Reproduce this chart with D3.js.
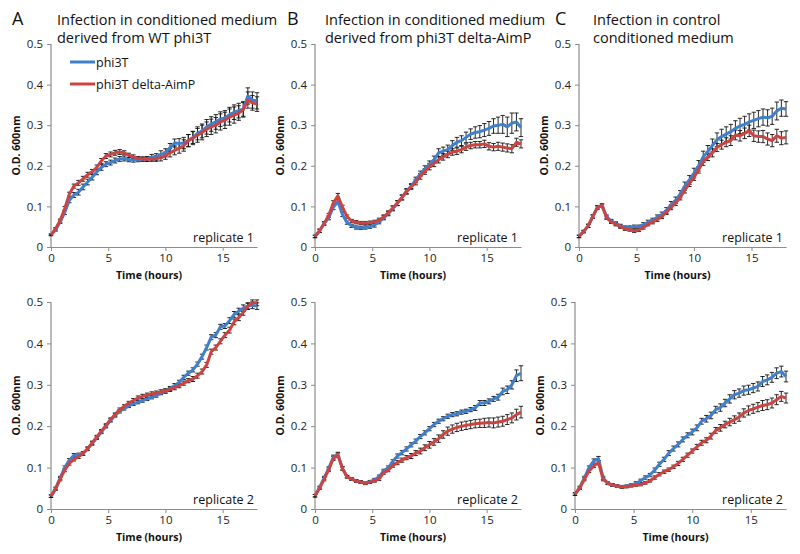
<!DOCTYPE html>
<html><head><meta charset="utf-8">
<script src="https://cdn.jsdelivr.net/npm/d3@7"></script>
<style>
body{margin:0;background:#fff;}
svg{display:block;}
</style></head>
<body>
<svg id="chart" width="800" height="554"></svg>
<script>
// ---- data ----
const times = [0,0.4,0.8,1.2,1.6,2.0,2.4,2.8,3.2,3.6,4.0,4.4,4.8,5.2,5.6,6.0,6.4,6.8,7.2,7.6,8.0,8.4,8.8,9.2,9.6,10.0,10.4,10.8,11.2,11.6,12.0,12.4,12.8,13.2,13.6,14.0,14.4,14.8,15.2,15.6,16.0,16.4,16.8,17.2,17.6,18.0];
const seriesNames = ["phi3T", "phi3T delta-AimP"];
const xTicks = [0, 5, 10, 15];
const yTicks = [0, 0.1, 0.2, 0.3, 0.4, 0.5];
const panelLetters = ["A", "B", "C"];
const panelTitles = [
  ["Infection in conditioned medium", "derived from WT phi3T"],
  ["Infection in conditioned medium", "derived from phi3T delta-AimP"],
  ["Infection in control", "conditioned medium"]
];
const replicateLabels = ["replicate 1", "replicate 2"];
const xLabel = "Time (hours)";
const yLabel = "O.D. 600nm";

// replicate 1
const a1Phi3T = [0.030,0.042,0.062,0.085,0.115,0.128,0.135,0.148,0.160,0.172,0.185,0.196,0.204,0.208,0.213,0.217,0.218,0.215,0.214,0.215,0.216,0.217,0.221,0.222,0.228,0.232,0.245,0.256,0.255,0.256,0.262,0.270,0.280,0.286,0.296,0.303,0.308,0.315,0.318,0.326,0.332,0.336,0.340,0.372,0.362,0.360];
const a1Delta = [0.030,0.045,0.065,0.095,0.130,0.150,0.158,0.168,0.178,0.185,0.196,0.212,0.224,0.228,0.232,0.234,0.232,0.226,0.222,0.218,0.217,0.216,0.217,0.218,0.220,0.225,0.232,0.238,0.243,0.250,0.262,0.268,0.275,0.282,0.290,0.296,0.300,0.308,0.312,0.320,0.325,0.330,0.338,0.362,0.355,0.352];
const a1Phi3TErr = [0.002,0.003,0.004,0.005,0.006,0.006,0.007,0.007,0.007,0.007,0.007,0.007,0.006,0.006,0.006,0.006,0.006,0.005,0.005,0.005,0.005,0.006,0.007,0.008,0.009,0.010,0.010,0.010,0.012,0.014,0.015,0.015,0.016,0.017,0.018,0.018,0.018,0.018,0.018,0.018,0.018,0.018,0.018,0.020,0.020,0.020];
const a1DeltaErr = [0.002,0.003,0.004,0.005,0.005,0.005,0.006,0.006,0.006,0.006,0.006,0.006,0.006,0.006,0.006,0.006,0.005,0.005,0.005,0.005,0.005,0.005,0.006,0.007,0.008,0.009,0.010,0.011,0.012,0.014,0.015,0.016,0.017,0.018,0.018,0.019,0.019,0.020,0.020,0.020,0.020,0.018,0.018,0.020,0.018,0.018];

const b1Phi3T = [0.026,0.040,0.058,0.072,0.098,0.112,0.080,0.060,0.052,0.048,0.047,0.048,0.050,0.054,0.062,0.072,0.082,0.095,0.108,0.122,0.138,0.150,0.165,0.180,0.192,0.204,0.215,0.232,0.236,0.240,0.250,0.258,0.262,0.270,0.278,0.282,0.284,0.288,0.292,0.298,0.300,0.302,0.296,0.305,0.308,0.294];
const b1Delta = [0.026,0.040,0.058,0.078,0.108,0.126,0.098,0.075,0.064,0.061,0.059,0.059,0.060,0.062,0.066,0.074,0.084,0.096,0.108,0.122,0.136,0.148,0.160,0.174,0.186,0.198,0.206,0.215,0.222,0.228,0.234,0.236,0.240,0.246,0.250,0.252,0.252,0.254,0.248,0.246,0.248,0.246,0.244,0.242,0.258,0.254];
const b1Phi3TErr = [0.003,0.004,0.004,0.005,0.006,0.006,0.005,0.004,0.004,0.004,0.004,0.004,0.004,0.005,0.005,0.005,0.005,0.006,0.006,0.006,0.006,0.006,0.007,0.007,0.008,0.008,0.009,0.010,0.010,0.011,0.012,0.012,0.012,0.013,0.013,0.014,0.015,0.016,0.017,0.018,0.020,0.022,0.024,0.025,0.022,0.022];
const b1DeltaErr = [0.003,0.004,0.004,0.005,0.006,0.006,0.005,0.004,0.004,0.004,0.004,0.004,0.004,0.004,0.005,0.005,0.005,0.005,0.006,0.006,0.006,0.006,0.007,0.007,0.007,0.008,0.008,0.008,0.008,0.008,0.008,0.008,0.008,0.008,0.008,0.008,0.008,0.009,0.009,0.009,0.010,0.010,0.010,0.010,0.010,0.010];

const c1Phi3T = [0.026,0.038,0.052,0.075,0.098,0.102,0.075,0.064,0.058,0.052,0.048,0.048,0.050,0.050,0.055,0.061,0.066,0.073,0.080,0.090,0.104,0.115,0.130,0.150,0.165,0.182,0.200,0.222,0.235,0.250,0.264,0.272,0.278,0.284,0.292,0.298,0.302,0.308,0.312,0.316,0.320,0.318,0.322,0.335,0.342,0.340];
const c1Delta = [0.026,0.038,0.052,0.075,0.097,0.102,0.072,0.062,0.056,0.050,0.045,0.043,0.040,0.042,0.048,0.056,0.062,0.068,0.075,0.085,0.098,0.108,0.122,0.140,0.156,0.172,0.190,0.210,0.222,0.232,0.245,0.252,0.258,0.262,0.276,0.274,0.280,0.286,0.274,0.272,0.272,0.266,0.262,0.274,0.268,0.270];
const c1Phi3TErr = [0.003,0.003,0.004,0.004,0.004,0.004,0.004,0.004,0.004,0.004,0.004,0.004,0.004,0.004,0.005,0.005,0.005,0.006,0.006,0.007,0.008,0.008,0.009,0.010,0.011,0.012,0.013,0.014,0.015,0.016,0.017,0.018,0.018,0.018,0.019,0.019,0.020,0.020,0.020,0.020,0.020,0.020,0.020,0.022,0.020,0.018];
const c1DeltaErr = [0.003,0.003,0.004,0.004,0.004,0.004,0.004,0.004,0.004,0.004,0.004,0.004,0.004,0.004,0.004,0.004,0.005,0.005,0.005,0.005,0.006,0.006,0.006,0.007,0.007,0.008,0.008,0.009,0.009,0.010,0.010,0.011,0.011,0.012,0.012,0.013,0.013,0.014,0.014,0.014,0.015,0.015,0.015,0.016,0.016,0.016];

// replicate 2
const a2Phi3T = [0.031,0.050,0.075,0.100,0.118,0.130,0.131,0.134,0.145,0.158,0.172,0.186,0.200,0.214,0.226,0.236,0.243,0.249,0.254,0.258,0.262,0.266,0.270,0.274,0.280,0.285,0.291,0.298,0.306,0.318,0.328,0.336,0.350,0.368,0.390,0.415,0.420,0.440,0.442,0.455,0.470,0.478,0.485,0.490,0.492,0.490];
const a2Delta = [0.031,0.048,0.072,0.094,0.110,0.120,0.126,0.134,0.146,0.160,0.174,0.188,0.202,0.216,0.228,0.240,0.248,0.256,0.262,0.268,0.272,0.275,0.278,0.280,0.283,0.285,0.289,0.293,0.298,0.304,0.310,0.314,0.322,0.332,0.348,0.380,0.390,0.405,0.420,0.432,0.452,0.462,0.475,0.490,0.498,0.498];
const a2Phi3TErr = [0.003,0.003,0.004,0.004,0.004,0.004,0.004,0.004,0.004,0.004,0.004,0.004,0.004,0.004,0.004,0.004,0.004,0.004,0.004,0.004,0.004,0.004,0.004,0.004,0.004,0.005,0.005,0.005,0.005,0.005,0.005,0.005,0.005,0.006,0.006,0.006,0.006,0.006,0.006,0.007,0.007,0.007,0.008,0.008,0.008,0.008];
const a2DeltaErr = [0.003,0.003,0.004,0.004,0.004,0.004,0.004,0.004,0.004,0.004,0.004,0.004,0.004,0.004,0.004,0.004,0.004,0.004,0.005,0.005,0.005,0.005,0.005,0.005,0.005,0.005,0.005,0.005,0.005,0.005,0.005,0.006,0.006,0.006,0.006,0.006,0.006,0.006,0.006,0.007,0.007,0.007,0.007,0.007,0.007,0.007];

const b2Phi3T = [0.032,0.052,0.075,0.098,0.125,0.132,0.098,0.078,0.072,0.068,0.065,0.062,0.066,0.070,0.078,0.092,0.100,0.115,0.128,0.136,0.145,0.155,0.164,0.175,0.184,0.194,0.204,0.212,0.218,0.224,0.228,0.230,0.234,0.236,0.240,0.244,0.256,0.256,0.260,0.266,0.270,0.284,0.288,0.300,0.322,0.328];
const b2Delta = [0.032,0.050,0.072,0.095,0.122,0.130,0.098,0.078,0.072,0.068,0.065,0.062,0.065,0.068,0.073,0.088,0.094,0.105,0.112,0.118,0.124,0.128,0.135,0.140,0.148,0.155,0.162,0.170,0.180,0.188,0.193,0.197,0.200,0.202,0.204,0.206,0.207,0.208,0.209,0.208,0.210,0.212,0.216,0.220,0.228,0.234];
const b2Phi3TErr = [0.003,0.003,0.004,0.004,0.005,0.005,0.004,0.003,0.003,0.003,0.003,0.003,0.003,0.004,0.004,0.004,0.004,0.004,0.005,0.005,0.005,0.005,0.005,0.005,0.005,0.005,0.005,0.005,0.005,0.005,0.005,0.005,0.005,0.005,0.005,0.006,0.006,0.006,0.006,0.006,0.007,0.008,0.009,0.010,0.014,0.018];
const b2DeltaErr = [0.003,0.003,0.004,0.004,0.005,0.005,0.004,0.003,0.003,0.003,0.003,0.003,0.003,0.003,0.004,0.004,0.004,0.004,0.005,0.005,0.005,0.006,0.006,0.007,0.007,0.008,0.008,0.009,0.009,0.010,0.010,0.010,0.010,0.010,0.010,0.010,0.010,0.011,0.011,0.012,0.012,0.012,0.012,0.012,0.013,0.014];

const c2Phi3T = [0.036,0.052,0.075,0.100,0.116,0.122,0.075,0.062,0.058,0.055,0.054,0.055,0.058,0.062,0.068,0.076,0.082,0.094,0.108,0.120,0.135,0.146,0.156,0.168,0.178,0.186,0.196,0.212,0.218,0.226,0.240,0.245,0.256,0.266,0.276,0.280,0.286,0.288,0.292,0.296,0.308,0.312,0.318,0.328,0.332,0.320];
const c2Delta = [0.036,0.050,0.072,0.092,0.104,0.112,0.072,0.062,0.058,0.055,0.053,0.054,0.056,0.058,0.059,0.063,0.068,0.076,0.084,0.090,0.095,0.102,0.110,0.120,0.130,0.140,0.150,0.160,0.166,0.176,0.190,0.196,0.204,0.210,0.216,0.222,0.232,0.238,0.242,0.246,0.250,0.252,0.256,0.264,0.272,0.268];
const c2Phi3TErr = [0.003,0.003,0.004,0.004,0.005,0.005,0.004,0.003,0.003,0.003,0.003,0.003,0.003,0.004,0.004,0.004,0.004,0.005,0.005,0.005,0.006,0.006,0.006,0.006,0.006,0.007,0.007,0.007,0.008,0.008,0.008,0.009,0.009,0.010,0.010,0.010,0.011,0.011,0.011,0.011,0.012,0.012,0.012,0.013,0.013,0.013];
const c2DeltaErr = [0.003,0.003,0.004,0.004,0.004,0.004,0.004,0.003,0.003,0.003,0.003,0.003,0.003,0.003,0.003,0.003,0.003,0.004,0.004,0.004,0.004,0.004,0.005,0.005,0.005,0.005,0.006,0.006,0.006,0.007,0.007,0.008,0.008,0.009,0.009,0.010,0.010,0.011,0.011,0.011,0.012,0.012,0.012,0.012,0.012,0.012];

// ---- layout ----
const colors = ["#3f7fcc", "#cc4442"];
const panels = [
  {col:0,row:0,x0:51, x1:257,y0:247,y1:44, s:[a1Phi3T,a1Delta], e:[a1Phi3TErr,a1DeltaErr]},
  {col:1,row:0,x0:315,x1:521,y0:247,y1:44, s:[b1Phi3T,b1Delta], e:[b1Phi3TErr,b1DeltaErr]},
  {col:2,row:0,x0:579,x1:786,y0:247,y1:44, s:[c1Phi3T,c1Delta], e:[c1Phi3TErr,c1DeltaErr]},
  {col:0,row:1,x0:51, x1:257,y0:509,y1:302,s:[a2Phi3T,a2Delta], e:[a2Phi3TErr,a2DeltaErr]},
  {col:1,row:1,x0:315,x1:521,y0:509,y1:302,s:[b2Phi3T,b2Delta], e:[b2Phi3TErr,b2DeltaErr]},
  {col:2,row:1,x0:575,x1:786,y0:509,y1:302,s:[c2Phi3T,c2Delta], e:[c2Phi3TErr,c2DeltaErr]}
];
const font = "'Open Sans', 'DejaVu Sans', sans-serif";
const svg = d3.select("#chart");

panels.forEach(p => {
  const x = d3.scaleLinear().domain([0, 18]).range([p.x0, p.x1]);
  const y = d3.scaleLinear().domain([0, 0.5]).range([p.y0, p.y1]);
  const g = svg.append("g");

  // axes
  const ya = g.append("g").attr("transform", `translate(${p.x0},0)`)
    .call(d3.axisLeft(y).tickValues(yTicks).tickSize(4).tickPadding(4)
      .tickFormat(d => d === 0 ? "0" : d3.format(".1f")(d)));
  const xa = g.append("g").attr("transform", `translate(0,${p.y0})`)
    .call(d3.axisBottom(x).tickValues(xTicks).tickSize(4).tickPadding(3).tickSizeOuter(0));
  [ya, xa].forEach(a => {
    a.select(".domain").attr("stroke", "#8c8c8c").attr("stroke-width", 1.2);
    a.selectAll(".tick line").attr("stroke", "#8c8c8c");
    a.selectAll(".tick text").attr("fill", "#222").style("font-family", font).style("font-size", "11.5px");
  });
  ya.select(".domain").attr("d", `M-0,${p.y0}V${p.y1}`);

  // axis titles
  g.append("text").attr("x", (p.x0 + p.x1) / 2 - 5).attr("y", p.y0 + 32)
    .attr("text-anchor", "middle").style("font-family", font).style("font-size", "10.5px")
    .style("font-weight", "bold").attr("fill", "#111").text(xLabel);
  g.append("text").attr("transform", `translate(${p.x0 - 31},${(p.y0 + p.y1) / 2}) rotate(-90)`)
    .attr("text-anchor", "middle").style("font-family", font).style("font-size", "10.5px")
    .style("font-weight", "bold").attr("fill", "#111").text(yLabel);

  // replicate label
  g.append("text").attr("x", p.x1 - 3).attr("y", p.y0 - 5).attr("text-anchor", "end")
    .style("font-family", font).style("font-size", "12.5px").attr("fill", "#111")
    .text(replicateLabels[p.row]);

  const line = d3.line().x((d, i) => x(times[i])).y(d => y(d));

  // error bars then lines
  p.s.forEach((vals, k) => {
    const eg = g.append("g").attr("stroke", "#111").attr("stroke-width", 0.9);
    vals.forEach((v, i) => {
      const e = p.e[k][i];
      const cx = x(times[i]);
      eg.append("line").attr("x1", cx).attr("x2", cx).attr("y1", y(v - e)).attr("y2", y(v + e));
      eg.append("line").attr("x1", cx - 2.2).attr("x2", cx + 2.2).attr("y1", y(v + e)).attr("y2", y(v + e));
      eg.append("line").attr("x1", cx - 2.2).attr("x2", cx + 2.2).attr("y1", y(v - e)).attr("y2", y(v - e));
    });
  });
  p.s.forEach((vals, k) => {
    g.append("path").datum(vals).attr("d", line).attr("fill", "none")
      .attr("stroke", colors[k]).attr("stroke-width", 3).attr("stroke-linejoin", "round");
  });

  // panel letter & title (top row)
  if (p.row === 0) {
    const lx = [12, 287, 555][p.col];
    const tx = [57, 325, 593][p.col];
    svg.append("text").attr("x", lx).attr("y", 25).style("font-family", font)
      .style("font-size", "18px").attr("fill", "#111").text(panelLetters[p.col]);
    panelTitles[p.col].forEach((t, j) => {
      svg.append("text").attr("x", tx).attr("y", 25 + j * 18).style("font-family", font)
        .style("font-size", "14.5px").attr("fill", "#111").text(t);
    });
  }
});

// legend in panel A, replicate 1
const lg = svg.append("g");
seriesNames.forEach((n, i) => {
  const ly = 62 + i * 22;
  lg.append("line").attr("x1", 70).attr("x2", 95).attr("y1", ly).attr("y2", ly)
    .attr("stroke", colors[i]).attr("stroke-width", 3);
  lg.append("text").attr("x", 96).attr("y", ly + 4.5).style("font-family", font)
    .style("font-size", "12.5px").attr("fill", "#111").text(n);
});
</script>
</body></html>
